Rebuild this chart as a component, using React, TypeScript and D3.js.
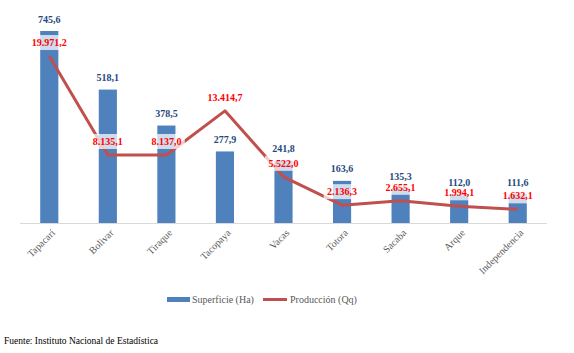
import React, { useEffect, useRef } from 'react';
import * as d3 from 'd3';

const municipios = ['Tapacarí', 'Bolivar', 'Tiraque', 'Tacopaya', 'Vacas', 'Totora', 'Sacaba', 'Arque', 'Independencia'];
const superficie = [745.6, 518.1, 378.5, 277.9, 241.8, 163.6, 135.3, 112.0, 111.6];
const produccion = [19971.2, 8135.1, 8137.0, 13414.7, 5522.0, 2136.3, 2655.1, 1994.1, 1632.1];
const seriesNames = ['Superficie (Ha)', 'Producción (Qq)'];

const fmt = (v: number) => {
  const [ent, dec] = v.toFixed(1).split('.');
  return ent.replace(/\B(?=(\d{3})+(?!\d))/g, '.') + ',' + dec;
};

const SERIF = "'Liberation Serif', 'DejaVu Serif', serif";

const App = () => {
  const svgRef = useRef<SVGSVGElement>(null);

  useEffect(() => {
    document.body.style.margin = '0';
    const svg = d3.select(svgRef.current);
    svg.selectAll('*').remove();

    const base = 223;

    const x = d3.scaleBand()
      .domain(municipios)
      .range([20, 547])
      .paddingInner(0.69)
      .paddingOuter(0.345);

    const yBar = d3.scaleLinear().domain([0, 800]).range([base, 17]);
    const yLine = d3.scaleLinear().domain([0, 25000]).range([base, 14]);
    const cx = (d: string) => (x(d) as number) + x.bandwidth() / 2;

    const data = municipios.map((m, i) => ({ m, s: superficie[i], p: produccion[i] }));

    // axis line
    svg.append('line')
      .attr('x1', 20).attr('x2', 547)
      .attr('y1', base + 0.5).attr('y2', base + 0.5)
      .attr('stroke', '#d9d9d9');

    // bars
    svg.append('g')
      .selectAll('rect')
      .data(data)
      .enter().append('rect')
      .attr('x', d => x(d.m) as number)
      .attr('y', d => yBar(d.s))
      .attr('width', x.bandwidth())
      .attr('height', d => base - yBar(d.s))
      .attr('fill', '#4F81BD');

    // line
    const line = d3.line<{ m: string; p: number }>()
      .x(d => cx(d.m))
      .y(d => yLine(d.p));

    svg.append('path')
      .datum(data)
      .attr('d', line)
      .attr('fill', 'none')
      .attr('stroke', '#C0504D')
      .attr('stroke-width', 3)
      .attr('stroke-linejoin', 'round');

    // line labels with light box
    const lbl = svg.append('g')
      .selectAll('g')
      .data(data)
      .enter().append('g')
      .attr('transform', d => `translate(${cx(d.m)},${yLine(d.p) - 13.5})`);

    lbl.append('rect')
      .attr('x', d => -fmt(d.p).length * 2.2 - 3)
      .attr('y', -7.5)
      .attr('width', d => fmt(d.p).length * 4.4 + 6)
      .attr('height', 15)
      .attr('fill', '#fff')
      .attr('opacity', 0.72);

    lbl.append('text')
      .attr('text-anchor', 'middle')
      .attr('dy', '0.35em')
      .style('font-family', SERIF)
      .style('font-weight', 'bold')
      .style('font-size', '10px')
      .attr('fill', '#FF0000')
      .text(d => fmt(d.p));

    // bar labels
    svg.append('g')
      .selectAll('text')
      .data(data)
      .enter().append('text')
      .attr('x', d => cx(d.m))
      .attr('y', d => yBar(d.s) - 8.5)
      .attr('text-anchor', 'middle')
      .style('font-family', SERIF)
      .style('font-weight', 'bold')
      .style('font-size', '10px')
      .attr('fill', '#1F497D')
      .text(d => fmt(d.s));

    // category labels
    svg.append('g')
      .selectAll('text')
      .data(municipios)
      .enter().append('text')
      .attr('transform', d => `translate(${cx(d) + 4},${base + 8}) rotate(-45)`)
      .attr('text-anchor', 'end')
      .attr('dy', '0.35em')
      .style('font-family', SERIF)
      .style('font-size', '10px')
      .attr('fill', '#595959')
      .text(d => d);

    // legend
    const leg = svg.append('g').style('font-family', SERIF).style('font-size', '10px').attr('fill', '#595959');
    leg.append('rect').attr('x', 167).attr('y', 297).attr('width', 23).attr('height', 5).attr('fill', '#4F81BD');
    leg.append('text').attr('x', 192).attr('y', 299.5).attr('dy', '0.35em').text(seriesNames[0]);
    leg.append('line').attr('x1', 263).attr('x2', 287).attr('y1', 299.5).attr('y2', 299.5)
      .attr('stroke', '#C0504D').attr('stroke-width', 3);
    leg.append('text').attr('x', 290).attr('y', 299.5).attr('dy', '0.35em').text(seriesNames[1]);

    // source
    svg.append('text')
      .attr('x', 4)
      .attr('y', 341)
      .attr('dy', '0.35em')
      .style('font-family', SERIF)
      .style('font-size', '9.5px')
      .attr('fill', '#000')
      .text('Fuente: Instituto Nacional de Estadística');
  }, []);

  return (
    <svg ref={svgRef} width="574" height="353" style={{ display: 'block', background: '#fff' }}></svg>
  );
};

export default App;
